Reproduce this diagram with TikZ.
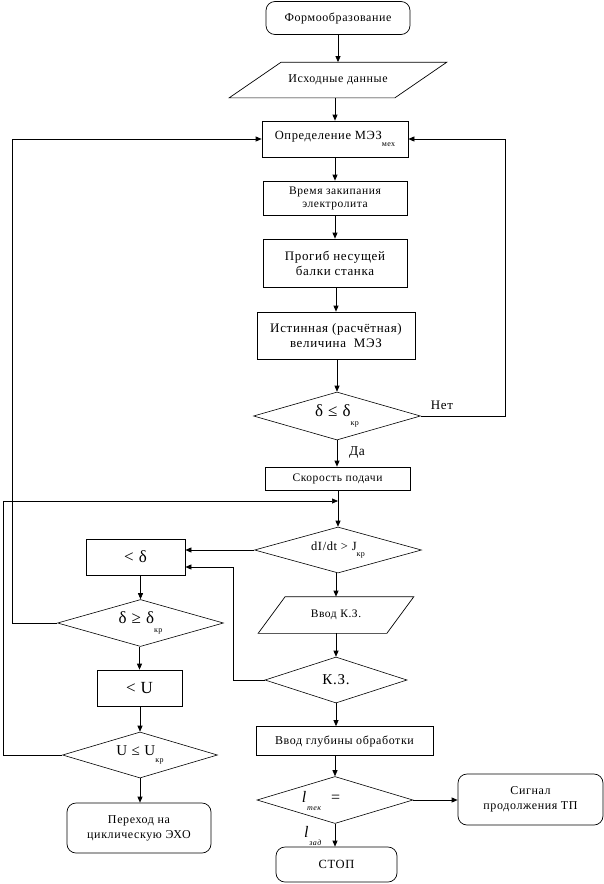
\documentclass[tikz,border=0pt]{standalone}
\usepackage{fontspec}
\setmainfont{Liberation Serif}[LetterSpace=5]
\usetikzlibrary{shapes.geometric,arrows.meta}
\newcommand{\kr}[1]{\raisebox{-1.1ex}{\fontsize{8}{8}\selectfont #1}}
\begin{document}
\begin{tikzpicture}[x=1pt,y=1pt,
  line width=0.7pt,
  box/.style={draw, rectangle, inner sep=1pt, align=center, font=\fontsize{11.5}{14}\selectfont},
  rbox/.style={box, rounded corners=9pt},
  plain/.style={inner sep=0pt, align=center, font=\fontsize{11.5}{14}\selectfont},
  dia/.style={draw, diamond, shape aspect=3.5, inner sep=0pt, line width=0.6pt, font=\fontsize{14}{16}\selectfont},
  arr/.style={-{Triangle[length=6pt,width=5pt]}},
  ]
\useasboundingbox (0,0) rectangle (604,-884);

% nodes
\node[rbox, minimum width=144, minimum height=33, font=\fontsize{12}{14}\selectfont] (f1) at (338,-18) {Формообразование};
\node[plain, minimum width=165, minimum height=35, font=\fontsize{12}{14}\selectfont] (f2) at (338,-80) {Исходные данные};
\draw ([xshift=26]f2.north west) -- ([xshift=26]f2.north east) -- ([xshift=-26]f2.south east) -- ([xshift=-26]f2.south west) -- cycle;

\node[box, minimum width=146, minimum height=36, font=\fontsize{12.5}{14}\selectfont] (r1) at (335,-139) {Определение МЭЗ\kr{мех}};
\node[box, minimum width=144, minimum height=34, font=\fontsize{11.5}{13}\selectfont] (r2) at (335,-198) {Время закипания\\электролита};
\node[box, minimum width=144, minimum height=48, font=\fontsize{13}{15}\selectfont] (r3) at (335,-263) {Прогиб несущей\\балки станка};
\node[box, minimum width=158, minimum height=47, font=\fontsize{13}{15}\selectfont] (r4) at (336,-335.5) {Истинная (расчётная)\\величина \ МЭЗ};
\node[dia, minimum width=167, minimum height=48, font=\fontsize{17}{18}\selectfont] (d1) at (337,-416) {δ ≤ δ\kr{кр}};
\node[plain, font=\fontsize{13}{15}\selectfont] (net) at (442,-405) {Нет};
\node[box, minimum width=145, minimum height=23, font=\fontsize{11.5}{13}\selectfont] (r5) at (337.5,-478.5) {Скорость подачи};

\node[dia, minimum width=167, minimum height=46, font=\fontsize{12.5}{14}\selectfont] (d2) at (338,-550) {dI/dt > J\kr{кр}};
\node[box, minimum width=99, minimum height=36, font=\fontsize{17}{18}\selectfont] (r6) at (135.5,-557) {< δ};
\node[dia, minimum width=166, minimum height=47, font=\fontsize{17}{18}\selectfont] (d3) at (140.5,-623) {δ ≥ δ\kr{кр}};
\node[box, minimum width=85, minimum height=36, font=\fontsize{17}{18}\selectfont] (r7) at (139.5,-688) {< U};
\node[dia, minimum width=155, minimum height=46, font=\fontsize{15}{16}\selectfont] (d5) at (140,-755) {U ≤ U\kr{кр}};
\node[rbox, minimum width=144, minimum height=50, font=\fontsize{12}{15}\selectfont] (pe) at (139,-828) {Переход на\\циклическую ЭХО};

\node[plain, minimum width=128, minimum height=36, font=\fontsize{11.5}{13}\selectfont] (vkz) at (336,-615) {Ввод К.З.};
\draw ([xshift=13.5]vkz.north west) -- ([xshift=13.5]vkz.north east) -- ([xshift=-13.5]vkz.south east) -- ([xshift=-13.5]vkz.south west) -- cycle;
\node[dia, minimum width=142, minimum height=46, font=\fontsize{15}{16}\selectfont] (d4) at (336,-680) {К.З.};
\node[box, minimum width=177, minimum height=29, font=\fontsize{12}{13}\selectfont] (r8) at (344.5,-741) {Ввод глубины обработки};
\node[dia, minimum width=156, minimum height=47] (d6) at (335,-800) {};
\node[plain, font=\fontsize{16}{17}\selectfont] (lt) at (321,-801) {\textit{l}\kr{\textit{тек}} \ =};
\node[plain, font=\fontsize{16}{17}\selectfont] (lz) at (313,-836) {\textit{l}\kr{\textit{зад}}};
\node[rbox, minimum width=145, minimum height=51, font=\fontsize{12}{15}\selectfont] (sig) at (530.5,-799.5) {Сигнал\\продолжения ТП};
\node[rbox, minimum width=121, minimum height=35, font=\fontsize{12.5}{14}\selectfont] (stop) at (336.5,-864.5) {СТОП};

\node[plain, font=\fontsize{13.5}{15}\selectfont] (da) at (357,-453) {Да};

% coordinates
\coordinate (rx) at (505,-139);
\coordinate (lx2) at (12,-139);
\coordinate (lx) at (3,-501);
\coordinate (j1) at (338,-501);
\coordinate (kx) at (233,-567);

% connectors
\draw[arr] (f1.south) -- (f2.north);
\draw[arr] (r1.north |- f2.south) -- (r1.north);
\draw[arr] (r1.south) -- (r2.north);
\draw[arr] (r2.south) -- (r3.north);
\draw[arr] (r4.north |- r3.south) -- (r4.north);
\draw[arr] (d1.north |- r4.south) -- (d1.north);
\draw[arr] (d1.south) -- (d1.south |- r5.north);
\draw[arr] (d1.east) -| (rx) -- (r1.east);
\draw[arr] (d3.west) -| (lx2) -- (r1.west);
\draw[arr] (d2.north |- r5.south) -- (d2.north);
\draw[arr] (d5.west) -| (lx) -- (j1);
\draw[arr] (d2.west) -- (d2.west -| r6.east);
\draw[arr] (d4.west) -| (kx) -- (kx -| r6.east);
\draw[arr] (d3.north |- r6.south) -- (d3.north);
\draw[arr] (r7.north |- d3.south) -- (r7.north);
\draw[arr] (d5.north |- r7.south) -- (d5.north);
\draw[arr] (d5.south) -- (d5.south |- pe.north);
\draw[arr] (vkz.north |- d2.south) -- (vkz.north);
\draw[arr] (vkz.south) -- (d4.north);
\draw[arr] (d4.south) -- (d4.south |- r8.north);
\draw[arr] (d6.north |- r8.south) -- (d6.north);
\draw[arr] (d6.east) -- (d6.east -| sig.west);
\draw[arr] (d6.south) -- (d6.south |- stop.north);
\end{tikzpicture}
\end{document}
